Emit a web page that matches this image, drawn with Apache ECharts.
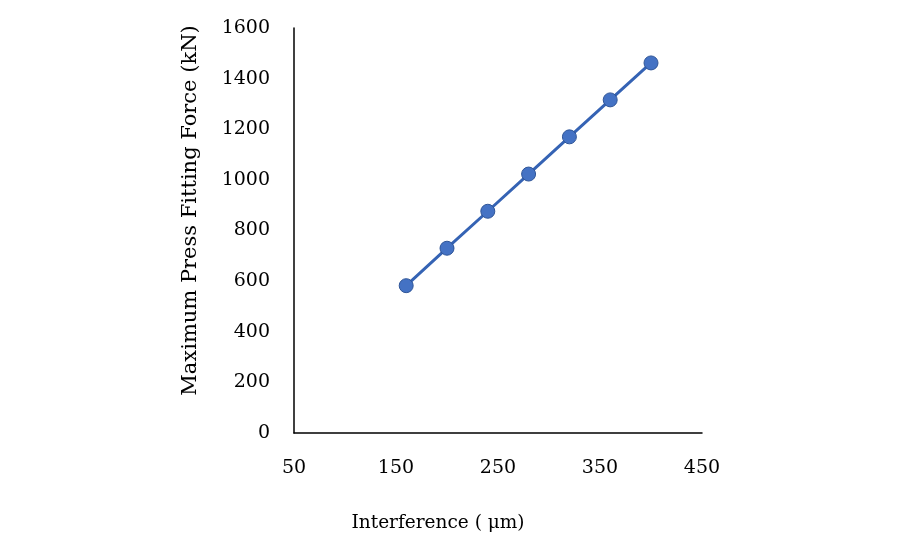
<!DOCTYPE html>
<html lang="en">

<head>
    <meta charset="UTF-8">
    <title>Interference vs press fitting force</title>
    <script src="https://cdn.jsdelivr.net/npm/echarts@6/dist/echarts.min.js"></script>
    <style>
        html,
        body {
            margin: 0;
            width: 100%;
            height: 100%;
            background: #fff;
        }

        #chart {
            width: 900px;
            height: 550px;
        }
    </style>
</head>

<body>
    <div id="chart"></div>
</body>
<script type="text/javascript">
    // 过盈量 (μm) 与最大压装力 (kN)
    var interference = [160, 200, 240, 280, 320, 360, 400];
    var pressForce = [582, 730, 876, 1023, 1170, 1316, 1462];

    var xTicks = [50, 150, 250, 350, 450];
    var yTicks = [0, 200, 400, 600, 800, 1000, 1200, 1400, 1600];

    var serif = '"DejaVu Serif", "Liberation Serif", serif';

    var myChart = echarts.init(document.getElementById('chart'));

    var points = interference.map(function (x, i) {
        return [x, pressForce[i]];
    });

    // plain numbers, no thousands separator
    function plain(v) {
        return String(v);
    }

    var option = {
        animation: false,
        grid: {
            left: 294,
            right: 198,
            top: 28,
            bottom: 117
        },
        xAxis: {
            type: 'value',
            min: xTicks[0],
            max: xTicks[xTicks.length - 1],
            interval: 100,
            name: 'Interference ( μm)',
            nameLocation: 'middle',
            nameGap: 81,
            nameTextStyle: {
                fontFamily: serif,
                fontSize: 18.5,
                color: '#000',
                padding: [0, 120, 0, 0]
            },
            axisLine: { lineStyle: { color: '#000', width: 1.5 } },
            axisTick: { show: false },
            splitLine: { show: false },
            axisLabel: {
                margin: 26,
                fontFamily: serif,
                fontSize: 19,
                color: '#000',
                formatter: plain
            }
        },
        yAxis: {
            type: 'value',
            min: yTicks[0],
            max: yTicks[yTicks.length - 1],
            interval: 200,
            name: 'Maximum Press Fitting Force (kN)',
            nameLocation: 'middle',
            nameGap: 93,
            nameTextStyle: {
                fontFamily: serif,
                fontSize: 21,
                color: '#000',
                padding: [0, 0, 0, 40]
            },
            axisLine: { show: true, lineStyle: { color: '#000', width: 1.5 } },
            axisTick: { show: false },
            splitLine: { show: false },
            axisLabel: {
                margin: 24,
                fontFamily: serif,
                fontSize: 19,
                color: '#000',
                formatter: plain
            }
        },
        series: [
            {
                type: 'line',
                data: points,
                symbol: 'circle',
                symbolSize: 14,
                lineStyle: { color: '#3563B4', width: 3 },
                itemStyle: {
                    color: '#4472C4',
                    borderColor: '#2F5597',
                    borderWidth: 1
                }
            }
        ]
    };

    myChart.setOption(option);
</script>

</html>
